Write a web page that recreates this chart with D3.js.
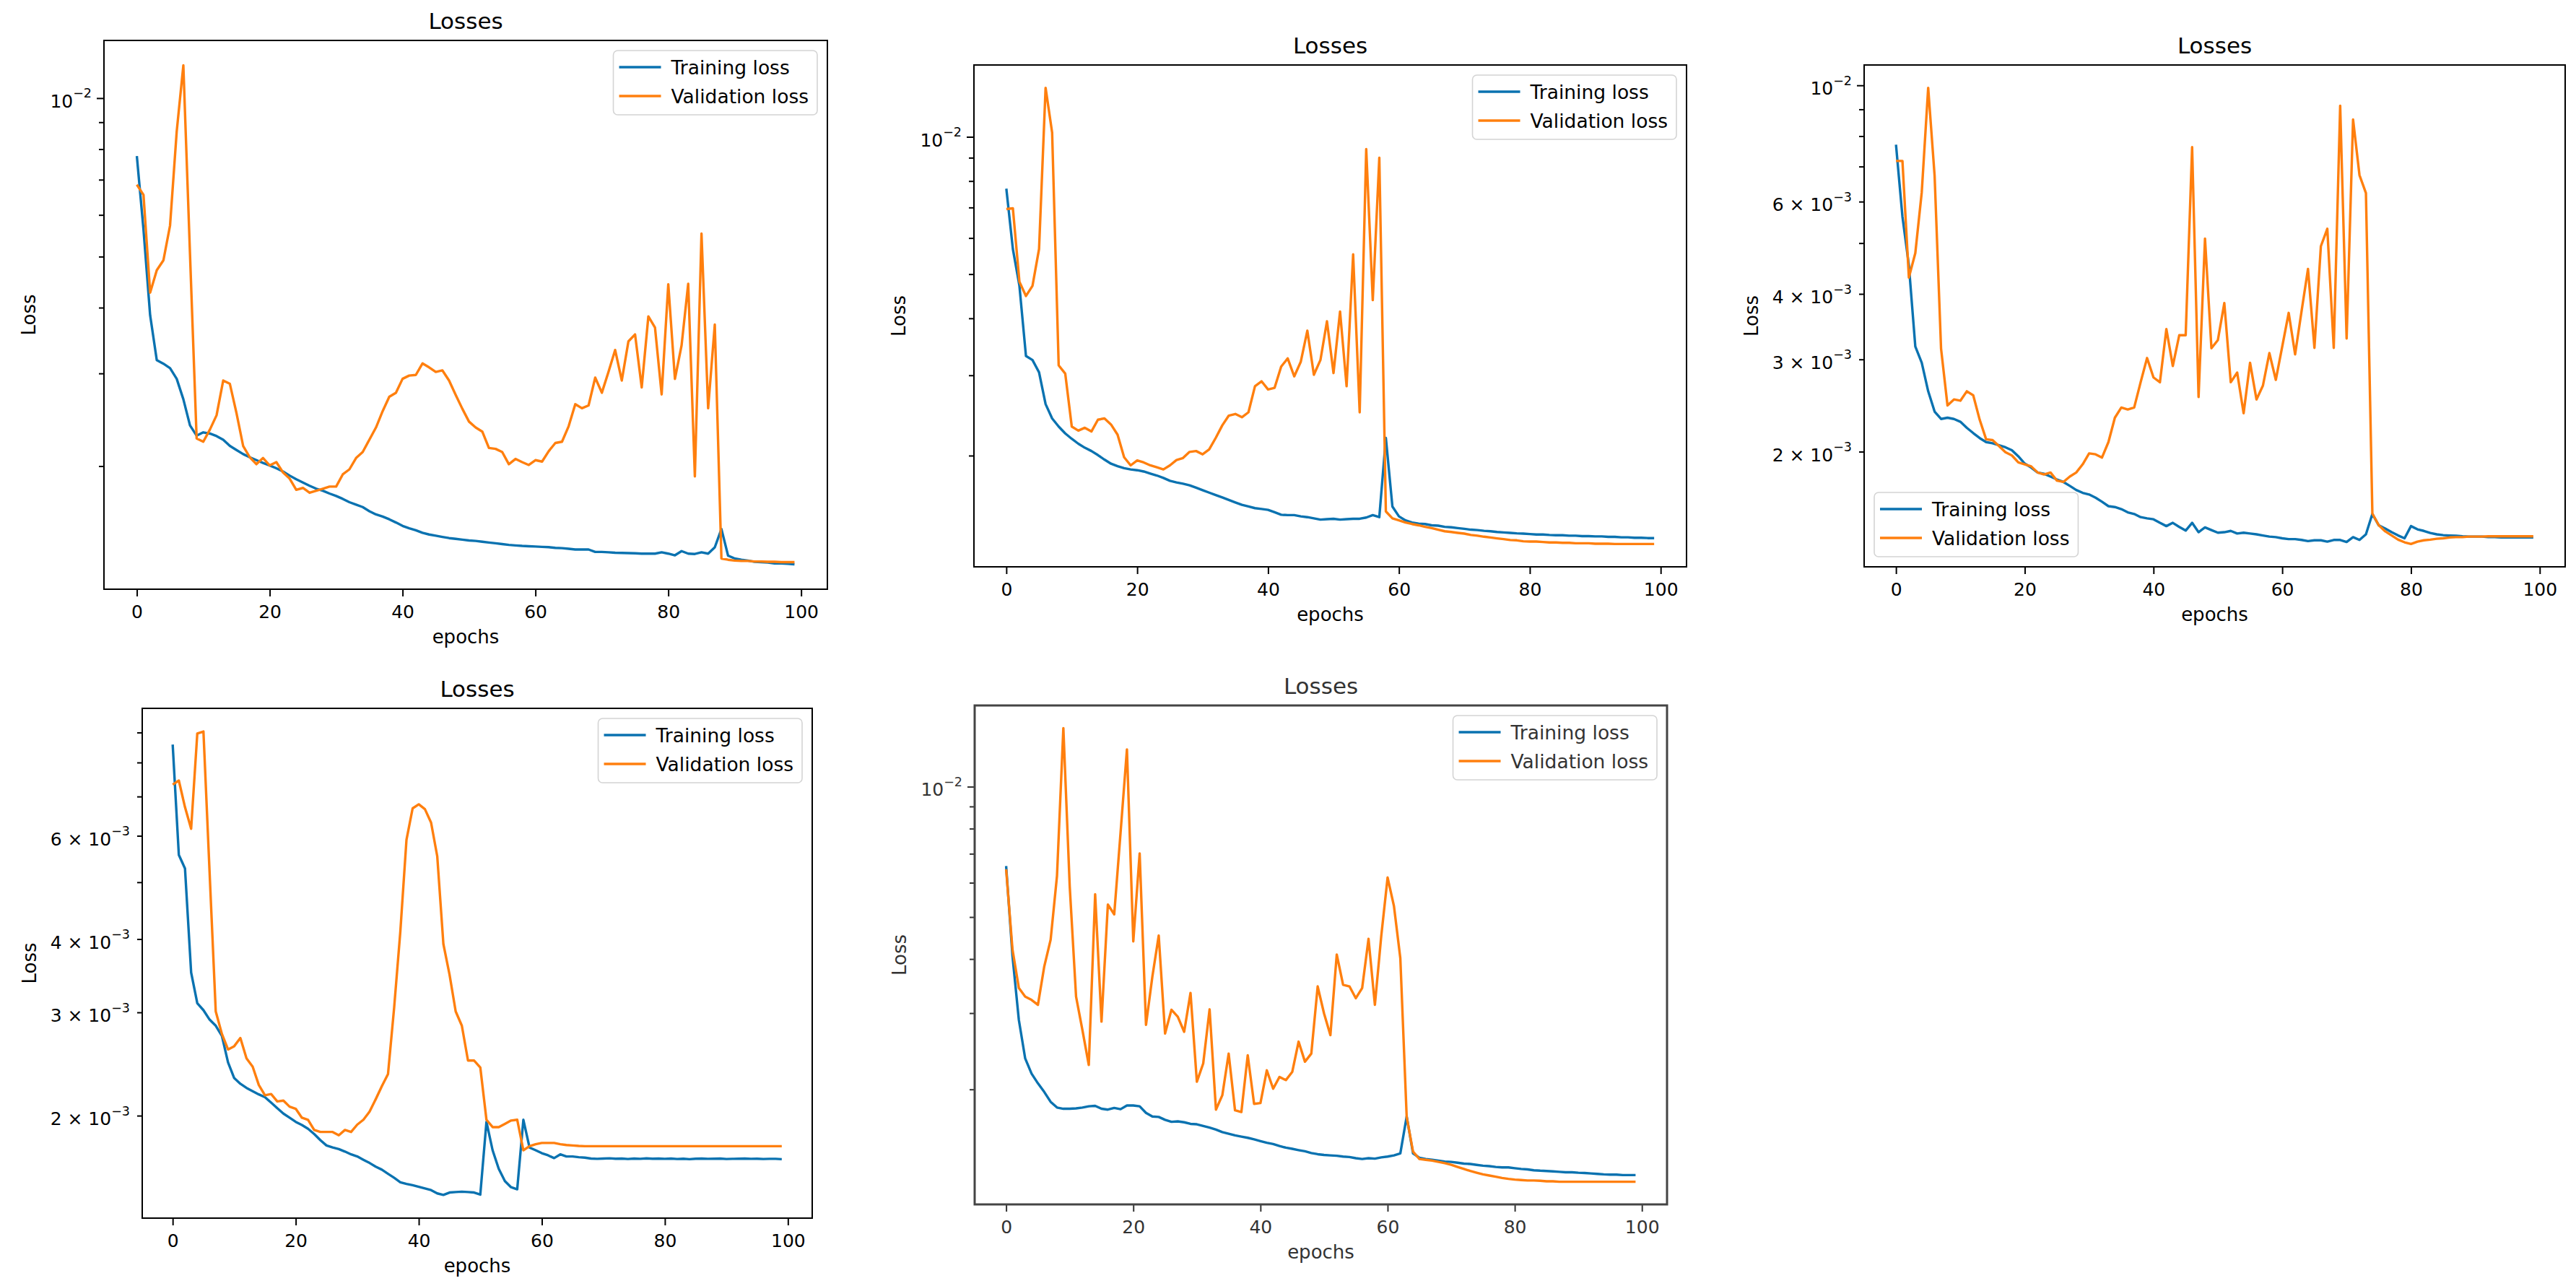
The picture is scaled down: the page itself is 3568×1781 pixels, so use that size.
<!DOCTYPE html>
<html>
<head>
<meta charset="utf-8">
<script src="https://cdn.jsdelivr.net/npm/d3@7"></script>
<style>
  body { margin: 0; background: #fff; }
  svg { display: block; }
</style>
</head>
<body>
<svg id="fig"></svg>
<script>
// loss values, in units of 1e-3
const UNIT = 1e-3;

const train1 = [
  7.76, 5.63, 3.87, 3.18, 3.13, 3.07, 2.93, 2.68, 2.39, 2.285,
  2.318, 2.306, 2.281, 2.245, 2.185, 2.146, 2.108, 2.079, 2.053, 2.028,
  2.006, 1.981, 1.953, 1.919, 1.888, 1.861, 1.835, 1.812, 1.796, 1.774,
  1.755, 1.733, 1.708, 1.690, 1.672, 1.642, 1.619, 1.604, 1.585, 1.563,
  1.540, 1.524, 1.511, 1.494, 1.483, 1.475, 1.467, 1.460, 1.455, 1.450,
  1.445, 1.442, 1.437, 1.432, 1.427, 1.422, 1.417, 1.414, 1.411, 1.409,
  1.407, 1.405, 1.403, 1.399, 1.397, 1.393, 1.389, 1.389, 1.389, 1.374,
  1.374, 1.372, 1.369, 1.368, 1.367, 1.366, 1.364, 1.364, 1.364, 1.372,
  1.364, 1.354, 1.379, 1.364, 1.362, 1.372, 1.364, 1.402, 1.519, 1.352,
  1.335, 1.328, 1.323, 1.316, 1.314, 1.312, 1.307, 1.307, 1.305, 1.302
];
const val1 = [
  6.85, 6.55, 4.27, 4.71, 4.92, 5.73, 8.64, 11.54, 5.06, 2.257,
  2.225, 2.347, 2.498, 2.908, 2.867, 2.521, 2.185, 2.079, 2.017, 2.072,
  2.006, 2.035, 1.946, 1.894, 1.803, 1.818, 1.780, 1.796, 1.812, 1.829,
  1.829, 1.929, 1.972, 2.072, 2.127, 2.245, 2.368, 2.543, 2.708, 2.756,
  2.930, 2.972, 2.980, 3.134, 3.080, 3.020, 3.040, 2.908, 2.730, 2.570,
  2.430, 2.368, 2.326, 2.165, 2.157, 2.127, 2.017, 2.064, 2.035, 2.010,
  2.053, 2.040, 2.135, 2.213, 2.225, 2.381, 2.622, 2.576, 2.608, 2.945,
  2.757, 3.020, 3.324, 2.908, 3.452, 3.558, 2.821, 3.849, 3.667, 2.737,
  4.431, 2.929, 3.390, 4.440, 1.912, 5.530, 2.576, 3.714, 1.335, 1.328,
  1.323, 1.321, 1.321, 1.318, 1.318, 1.316, 1.316, 1.314, 1.314, 1.314
];

const train2 = [
  7.698, 5.675, 4.714, 3.307, 3.240, 3.046, 2.594, 2.413, 2.316, 2.237,
  2.177, 2.124, 2.081, 2.047, 2.005, 1.960, 1.920, 1.896, 1.877, 1.865,
  1.858, 1.846, 1.827, 1.809, 1.787, 1.761, 1.747, 1.736, 1.722, 1.701,
  1.680, 1.659, 1.639, 1.619, 1.599, 1.579, 1.560, 1.547, 1.534, 1.528,
  1.521, 1.503, 1.484, 1.481, 1.481, 1.472, 1.466, 1.457, 1.448, 1.451,
  1.454, 1.448, 1.451, 1.454, 1.454, 1.463, 1.481, 1.466, 2.187, 1.547,
  1.472, 1.442, 1.427, 1.419, 1.416, 1.407, 1.404, 1.396, 1.393, 1.387,
  1.382, 1.376, 1.373, 1.368, 1.365, 1.360, 1.357, 1.354, 1.351, 1.349,
  1.346, 1.343, 1.343, 1.340, 1.338, 1.338, 1.335, 1.335, 1.332, 1.332,
  1.330, 1.330, 1.327, 1.327, 1.324, 1.324, 1.321, 1.321, 1.319, 1.319
];
const val2 = [
  6.944, 6.972, 4.812, 4.477, 4.714, 5.675, 12.81, 10.21, 3.154, 3.027,
  2.316, 2.269, 2.302, 2.259, 2.398, 2.413, 2.340, 2.223, 1.984, 1.904,
  1.952, 1.932, 1.904, 1.885, 1.865, 1.904, 1.956, 1.976, 2.038, 2.047,
  2.013, 2.064, 2.187, 2.330, 2.448, 2.468, 2.428, 2.489, 2.840, 2.911,
  2.793, 2.817, 3.135, 3.267, 2.984, 3.213, 3.758, 3.009, 3.240, 3.941,
  3.034, 4.141, 2.840, 5.525, 2.489, 9.400, 4.386, 9.002, 1.509, 1.457,
  1.442, 1.427, 1.416, 1.407, 1.396, 1.387, 1.376, 1.365, 1.360, 1.354,
  1.349, 1.340, 1.335, 1.328, 1.323, 1.317, 1.312, 1.306, 1.304, 1.298,
  1.296, 1.296, 1.293, 1.290, 1.290, 1.288, 1.288, 1.285, 1.285, 1.285,
  1.282, 1.282, 1.282, 1.280, 1.280, 1.280, 1.280, 1.280, 1.280, 1.280
];

const train3 = [
  7.706, 5.618, 4.536, 3.174, 2.956, 2.608, 2.385, 2.309, 2.322, 2.309,
  2.281, 2.221, 2.170, 2.123, 2.086, 2.075, 2.057, 2.039, 2.013, 1.960,
  1.898, 1.865, 1.825, 1.815, 1.793, 1.770, 1.751, 1.721, 1.690, 1.669,
  1.657, 1.634, 1.605, 1.574, 1.568, 1.554, 1.532, 1.521, 1.500, 1.492,
  1.486, 1.463, 1.442, 1.463, 1.437, 1.414, 1.463, 1.404, 1.434, 1.417,
  1.401, 1.404, 1.412, 1.396, 1.401, 1.396, 1.391, 1.384, 1.377, 1.374,
  1.367, 1.362, 1.362, 1.357, 1.350, 1.355, 1.355, 1.347, 1.357, 1.357,
  1.345, 1.374, 1.357, 1.391, 1.521, 1.447, 1.427, 1.404, 1.384, 1.367,
  1.442, 1.422, 1.412, 1.399, 1.391, 1.386, 1.384, 1.382, 1.379, 1.377,
  1.377, 1.377, 1.374, 1.374, 1.372, 1.372, 1.372, 1.372, 1.372, 1.372
];
const val3 = [
  7.174, 7.174, 4.298, 4.785, 6.253, 9.893, 6.715, 3.145, 2.450, 2.516,
  2.502, 2.608, 2.562, 2.301, 2.112, 2.104, 2.050, 1.995, 1.967, 1.908,
  1.892, 1.875, 1.825, 1.809, 1.825, 1.761, 1.751, 1.793, 1.825, 1.892,
  1.985, 1.977, 1.949, 2.086, 2.322, 2.428, 2.407, 2.428, 2.713, 3.018,
  2.771, 2.713, 3.427, 2.914, 3.336, 3.336, 7.624, 2.543, 5.101, 3.151,
  3.265, 3.842, 2.713, 2.831, 2.368, 2.956, 2.516, 2.674, 3.084, 2.742,
  3.174, 3.680, 3.067, 3.707, 4.463, 3.156, 4.932, 5.325, 3.156, 9.146,
  3.289, 8.608, 6.740, 6.230, 1.524, 1.447, 1.409, 1.384, 1.359, 1.343,
  1.333, 1.347, 1.355, 1.359, 1.364, 1.367, 1.372, 1.374, 1.374, 1.377,
  1.377, 1.377, 1.379, 1.379, 1.379, 1.379, 1.379, 1.379, 1.379, 1.379
];

const train4 = [
  8.584, 5.566, 5.279, 3.507, 3.109, 3.026, 2.916, 2.847, 2.735, 2.464,
  2.318, 2.267, 2.230, 2.202, 2.174, 2.150, 2.105, 2.059, 2.016, 1.984,
  1.952, 1.928, 1.900, 1.861, 1.817, 1.779, 1.765, 1.754, 1.737, 1.718,
  1.704, 1.682, 1.661, 1.637, 1.618, 1.592, 1.567, 1.540, 1.530, 1.522,
  1.513, 1.503, 1.493, 1.474, 1.465, 1.479, 1.482, 1.484, 1.482, 1.479,
  1.467, 1.952, 1.746, 1.623, 1.547, 1.510, 1.498, 1.968, 1.765, 1.746,
  1.726, 1.712, 1.693, 1.718, 1.704, 1.704, 1.699, 1.696, 1.690, 1.688,
  1.690, 1.692, 1.689, 1.690, 1.687, 1.690, 1.688, 1.691, 1.689, 1.690,
  1.688, 1.690, 1.687, 1.689, 1.686, 1.689, 1.690, 1.688, 1.689, 1.690,
  1.687, 1.688, 1.689, 1.690, 1.688, 1.689, 1.687, 1.688, 1.688, 1.686
];
const val4 = [
  7.335, 7.453, 6.715, 6.168, 8.963, 9.035, 5.195, 3.011, 2.757, 2.593,
  2.627, 2.713, 2.504, 2.424, 2.256, 2.167, 2.177, 2.115, 2.122, 2.072,
  2.055, 1.984, 1.968, 1.891, 1.876, 1.876, 1.876, 1.852, 1.891, 1.876,
  1.931, 1.968, 2.032, 2.133, 2.245, 2.355, 3.060, 4.117, 5.906, 6.682,
  6.790, 6.661, 6.318, 5.539, 3.924, 3.479, 3.011, 2.847, 2.483, 2.483,
  2.417, 1.968, 1.912, 1.912, 1.937, 1.962, 1.968, 1.746, 1.774, 1.788,
  1.797, 1.797, 1.797, 1.788, 1.782, 1.779, 1.776, 1.774, 1.774, 1.774,
  1.774, 1.774, 1.774, 1.774, 1.774, 1.774, 1.774, 1.774, 1.774, 1.774,
  1.774, 1.774, 1.774, 1.774, 1.774, 1.774, 1.774, 1.774, 1.774, 1.774,
  1.774, 1.774, 1.774, 1.774, 1.774, 1.774, 1.774, 1.774, 1.774, 1.774
];

const train5 = [
  6.556, 4.062, 2.893, 2.357, 2.175, 2.065, 1.972, 1.872, 1.816, 1.804,
  1.804, 1.808, 1.816, 1.828, 1.832, 1.804, 1.796, 1.812, 1.800, 1.836,
  1.836, 1.828, 1.765, 1.731, 1.727, 1.701, 1.683, 1.687, 1.679, 1.665,
  1.661, 1.646, 1.632, 1.615, 1.594, 1.580, 1.566, 1.556, 1.546, 1.533,
  1.519, 1.506, 1.496, 1.480, 1.467, 1.458, 1.448, 1.439, 1.426, 1.417,
  1.411, 1.408, 1.405, 1.399, 1.396, 1.387, 1.381, 1.387, 1.384, 1.393,
  1.399, 1.408, 1.423, 1.731, 1.423, 1.390, 1.381, 1.375, 1.369, 1.363,
  1.360, 1.354, 1.348, 1.345, 1.339, 1.333, 1.330, 1.324, 1.321, 1.321,
  1.315, 1.310, 1.307, 1.301, 1.298, 1.296, 1.293, 1.290, 1.287, 1.287,
  1.284, 1.282, 1.279, 1.276, 1.273, 1.271, 1.271, 1.268, 1.268, 1.268
];
const val5 = [
  6.443, 4.206, 3.428, 3.275, 3.218, 3.135, 3.847, 4.432, 6.223, 13.65,
  5.893, 3.275, 2.740, 2.277, 5.642, 2.868, 5.343, 5.072, 7.837, 12.19,
  4.393, 7.014, 2.818, 3.643, 4.529, 2.692, 3.054, 2.943, 2.716, 3.340,
  2.083, 2.296, 3.061, 1.796, 1.938, 2.419, 1.789, 1.773, 2.398, 1.852,
  1.860, 2.213, 2.007, 2.137, 2.101, 2.194, 2.578, 2.317, 2.419, 3.458,
  2.995, 2.669, 4.098, 3.488, 3.458, 3.247, 3.428, 4.451, 3.135, 4.519,
  6.169, 5.298, 4.018, 1.727, 1.436, 1.381, 1.375, 1.369, 1.360, 1.351,
  1.339, 1.324, 1.310, 1.296, 1.284, 1.273, 1.265, 1.257, 1.249, 1.243,
  1.238, 1.235, 1.232, 1.232, 1.230, 1.227, 1.227, 1.224, 1.224, 1.224,
  1.224, 1.224, 1.224, 1.224, 1.224, 1.224, 1.224, 1.224, 1.224, 1.224
];

const epochs = d3.range(100);
const xTicks = [0, 20, 40, 60, 80, 100];
const yLabelsA = [1e-2];
const yLabelsB = [2e-3, 3e-3, 4e-3, 6e-3, 1e-2];
const yLabelsC = [2e-3, 3e-3, 4e-3, 6e-3];
const seriesNames = ["Training loss", "Validation loss"];

const BLUE = "#0a72b0";
const ORANGE = "#ff7f0e";
const FONT = "'DejaVu Sans', sans-serif";
const TICK_FS = 25;

const panels = [
  { train: train1, val: val1, yLabels: yLabelsA, left: 144, right: 1146, top: 56, bottom: 816, legend: "tr" },
  { train: train2, val: val2, yLabels: yLabelsA, left: 1349, right: 2336, top: 90, bottom: 785, legend: "tr" },
  { train: train3, val: val3, yLabels: yLabelsB, left: 2582, right: 3553, top: 90, bottom: 785, legend: "bl" },
  { train: train4, val: val4, yLabels: yLabelsC, left: 197, right: 1125, top: 981, bottom: 1687, legend: "tr" },
  { train: train5, val: val5, yLabels: yLabelsA, left: 1350, right: 2309, top: 977, bottom: 1668, legend: "tr", dim: true }
];

const svg = d3.select("#fig")
  .attr("width", 3568)
  .attr("height", 1781)
  .style("font-family", FONT);

panels.forEach(drawPanel);


function drawPanel(p) {
  const ink = p.dim ? "#333" : "#000";
  const g = svg.append("g");

  const x = d3.scaleLinear().domain([-4.95, 103.95]).range([p.left, p.right]);

  // log autoscale with 5% margins like matplotlib
  const all = p.train.concat(p.val).map(v => v * UNIT);
  const lo = Math.log10(d3.min(all)), hi = Math.log10(d3.max(all));
  const pad = (hi - lo) * 0.05;
  const y = d3.scaleLog()
    .domain([Math.pow(10, lo - pad), Math.pow(10, hi + pad)])
    .range([p.bottom, p.top]);

  // x axis
  const xa = g.append("g")
    .attr("transform", `translate(0,${p.bottom})`)
    .call(d3.axisBottom(x).tickValues(xTicks).tickSize(10).tickPadding(12));
  xa.select(".domain").remove();
  xa.selectAll("line").attr("stroke", ink).attr("stroke-width", 2);
  xa.selectAll("text").attr("font-size", TICK_FS).attr("font-family", FONT).attr("fill", ink);

  // y ticks: decades long, the rest short
  const allTicks = y.ticks();
  const isDecade = v => Math.abs(Math.log10(v) - Math.round(Math.log10(v))) < 1e-6;
  const ya = g.append("g").attr("transform", `translate(${p.left},0)`);
  ya.call(d3.axisLeft(y).tickValues(allTicks.filter(isDecade)).tickSize(10).tickFormat(""));
  ya.call(g2 => g2.select(".domain").remove());
  const yMinor = g.append("g").attr("transform", `translate(${p.left},0)`)
    .call(d3.axisLeft(y).tickValues(allTicks.filter(v => !isDecade(v))).tickSize(7).tickFormat(""));
  yMinor.select(".domain").remove();
  g.selectAll(".tick line").attr("stroke", ink).attr("stroke-width", 2);

  // y tick labels with superscript exponent
  const labels = g.append("g");
  p.yLabels.forEach(v => {
    const e = Math.floor(Math.log10(v) + 1e-9);
    const m = Math.round(v / Math.pow(10, e));
    const t = labels.append("text")
      .attr("x", p.left - 17)
      .attr("y", y(v) + 4)
      .attr("text-anchor", "end")
      .attr("dominant-baseline", "central")
      .attr("font-size", TICK_FS)
      .attr("fill", ink);
    t.append("tspan").text(m === 1 ? "10" : m + " \u00d7 10");
    t.append("tspan")
      .attr("font-size", TICK_FS * 0.7)
      .attr("dy", -TICK_FS * 0.42)
      .text("\u2212" + Math.abs(e));
  });

  // lines
  const line = d3.line()
    .x((d, i) => x(epochs[i]))
    .y(d => y(d * UNIT));
  [[p.train, BLUE], [p.val, ORANGE]].forEach(([data, c]) => {
    g.append("path")
      .datum(data)
      .attr("d", line)
      .attr("fill", "none")
      .attr("stroke", c)
      .attr("stroke-width", 3.4)
      .attr("stroke-linejoin", "round");
  });

  // frame
  g.append("rect")
    .attr("x", p.left).attr("y", p.top)
    .attr("width", p.right - p.left).attr("height", p.bottom - p.top)
    .attr("fill", "none")
    .attr("stroke", p.dim ? "#444" : "#000")
    .attr("stroke-width", p.dim ? 3 : 2);

  // title and labels
  const cx = (p.left + p.right) / 2;
  g.append("text").attr("x", cx).attr("y", p.top - 27)
    .attr("text-anchor", "middle").attr("dominant-baseline", "central")
    .attr("font-size", 31).attr("fill", ink).text("Losses");
  g.append("text").attr("x", cx).attr("y", p.bottom + 66)
    .attr("text-anchor", "middle").attr("dominant-baseline", "central")
    .attr("font-size", 26).attr("fill", ink).text("epochs");
  const lx = labels.node().getBBox().x - 29;
  const ly = (p.top + p.bottom) / 2;
  g.append("text")
    .attr("transform", `translate(${lx},${ly}) rotate(-90)`)
    .attr("text-anchor", "middle").attr("dominant-baseline", "central")
    .attr("font-size", 26).attr("fill", ink).text("Loss");

  // legend
  const lg = g.append("g");
  const box = lg.append("rect")
    .attr("rx", 6).attr("ry", 6)
    .attr("fill", "#fff").attr("fill-opacity", 0.8)
    .attr("stroke", "#d4d4d4").attr("stroke-width", 1.6);
  let textW = 0;
  seriesNames.forEach((name, i) => {
    const ry = 23 + i * 40;
    lg.append("line")
      .attr("x1", 8).attr("x2", 66).attr("y1", ry).attr("y2", ry)
      .attr("stroke", i === 0 ? BLUE : ORANGE).attr("stroke-width", 3.4);
    const t = lg.append("text")
      .attr("x", 80).attr("y", ry)
      .attr("dominant-baseline", "central")
      .attr("font-size", 26.5).attr("fill", ink).text(name);
    textW = Math.max(textW, t.node().getComputedTextLength());
  });
  const lw = 80 + textW + 12, lh = 89;
  box.attr("width", lw).attr("height", lh);
  if (p.legend === "tr") {
    lg.attr("transform", `translate(${p.right - 14 - lw},${p.top + 14})`);
  } else {
    lg.attr("transform", `translate(${p.left + 14},${p.bottom - 14 - lh})`);
  }
}
</script>
</body>
</html>
